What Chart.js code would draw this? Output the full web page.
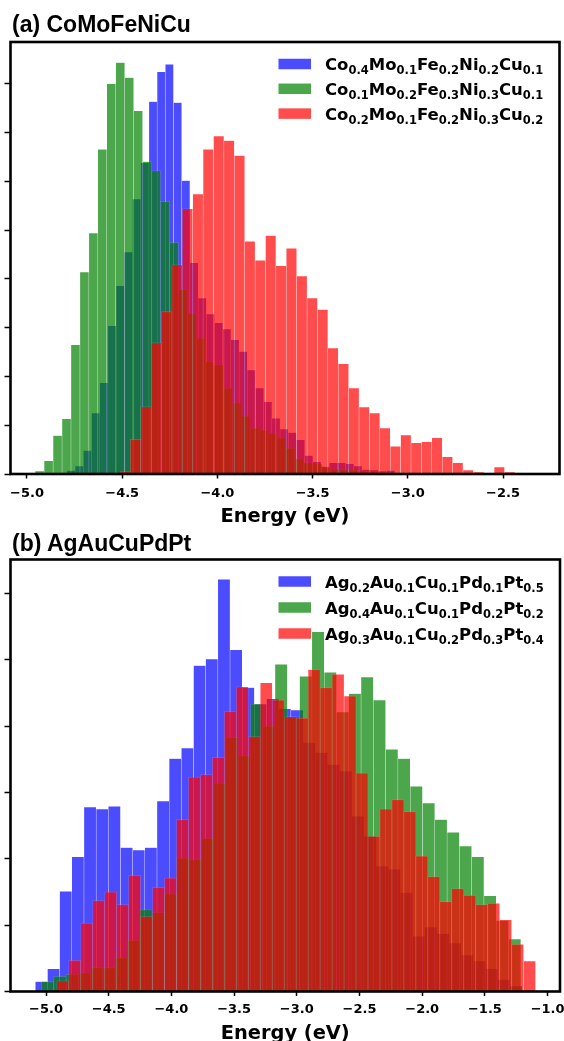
<!DOCTYPE html>
<html>
<head>
<meta charset="utf-8">
<script src="https://cdn.jsdelivr.net/npm/chart.js@4.4.0/dist/chart.umd.min.js"></script>
<style>
  html, body { margin: 0; padding: 0; background: #fff; overflow: hidden; }
  body { width: 564px; height: 1041px; position: relative; }
  .panel { position: absolute; left: 0; width: 564px; height: 530px; }
  .title { position: absolute; left: 12px; font: bold 23px "Liberation Sans", Arial, sans-serif; line-height: 23px; white-space: nowrap; color: #000; }
</style>
</head>
<body>
<div class="panel" style="top:0px"><canvas id="chartA"></canvas></div>
<div class="panel" style="top:520px"><canvas id="chartB"></canvas></div>
<div class="title" style="top:12.8px">(a) CoMoFeNiCu</div>
<div class="title" style="top:532.2px">(b) AgAuCuPdPt</div>
<script>
// histogram counts per bin (10000 samples each), bins spread evenly over [first edge, last edge]

// (a) CoMoFeNiCu
const aXRange = [-5.0866, -2.2034];
const aYMax = 886;
const aLabels = [
  [['Co', '0.4'], ['Mo', '0.1'], ['Fe', '0.2'], ['Ni', '0.2'], ['Cu', '0.1']],
  [['Co', '0.1'], ['Mo', '0.2'], ['Fe', '0.3'], ['Ni', '0.3'], ['Cu', '0.1']],
  [['Co', '0.2'], ['Mo', '0.1'], ['Fe', '0.2'], ['Ni', '0.3'], ['Cu', '0.2']]
];
const aBlueEdges = [-4.790, -3.0684];
const aBlueCounts = [7, 16, 48, 125, 187, 304, 386, 455, 564, 638, 764, 825, 840, 762, 602, 433, 361, 328, 310, 297,
  275, 251, 213, 176, 148, 114, 92, 85, 70, 38, 25, 15, 23, 23, 21, 16, 9, 8, 6, 7];
const aGreenEdges = [-4.957, -3.0758];
const aGreenCounts = [6, 27, 79, 113, 265, 414, 494, 666, 800, 844, 813, 745, 641, 622, 559, 475, 379, 330, 279, 230,
  224, 176, 146, 119, 94, 90, 84, 74, 53, 31, 23, 21, 14, 10, 9, 8, 7, 6, 4, 2];
const aRedEdges = [-4.5118, -2.3281];
const aRedCounts = [5, 71, 138, 269, 333, 429, 544, 574, 666, 693, 684, 653, 477, 438, 489, 427, 463, 406, 361, 337,
  258, 226, 176, 137, 125, 94, 57, 80, 64, 66, 74, 35, 23, 8, 4, 2, 14, 4, 2, 1];

// (b) AgAuCuPdPt
const bXRange = [-5.2831, -0.9011];
const bYMax = 651;
const bLabels = [
  [['Ag', '0.2'], ['Au', '0.1'], ['Cu', '0.1'], ['Pd', '0.1'], ['Pt', '0.5']],
  [['Ag', '0.4'], ['Au', '0.1'], ['Cu', '0.1'], ['Pd', '0.2'], ['Pt', '0.2']],
  [['Ag', '0.3'], ['Au', '0.1'], ['Cu', '0.2'], ['Pd', '0.3'], ['Pt', '0.4']]
];
const bBlueEdges = [-5.0853, -1.2033];
const bBlueCounts = [15, 34, 151, 203, 278, 275, 279, 217, 213, 217, 287, 351, 367, 491, 501, 621, 515, 458, 433, 441,
  426, 424, 375, 360, 342, 332, 264, 234, 189, 184, 149, 83, 97, 87, 73, 55, 46, 34, 18, 8];
const bGreenEdges = [-5.0359, -1.2136];
const bGreenCounts = [15, 23, 26, 28, 36, 36, 51, 77, 123, 119, 147, 201, 199, 231, 314, 383, 355, 433, 400, 493,
  414, 475, 542, 481, 421, 449, 474, 439, 365, 351, 309, 284, 259, 240, 219, 203, 144, 107, 79];
const bRedEdges = [-4.9139, -1.0959];
const bRedCounts = [16, 47, 103, 137, 150, 131, 175, 113, 157, 171, 259, 323, 327, 353, 422, 459, 384, 465, 439, 414,
  412, 485, 458, 478, 445, 329, 234, 275, 289, 271, 204, 173, 135, 155, 145, 131, 133, 108, 71, 46];

const seriesColors = ['rgba(0,0,255,0.7)', 'rgba(0,128,0,0.7)', 'rgba(255,0,0,0.7)'];
const FONT = '"DejaVu Sans", Verdana, sans-serif';

function histPoints(edges, counts) {
  const w = (edges[1] - edges[0]) / counts.length;
  return counts.map((c, i) => ({x: edges[0] + (i + 0.5) * w, y: c}));
}

function fmtTick(v) {
  const s = Math.abs(v).toFixed(1);
  return v < 0 ? '\u2212' + s : s;
}

const framePlugin = {
  id: 'frame',
  afterDatasetsDraw(chart) {
    const {ctx, chartArea: a} = chart;
    ctx.save();
    ctx.strokeStyle = '#000';
    ctx.lineWidth = 2.6;
    ctx.strokeRect(a.left, a.top, a.right - a.left, a.bottom - a.top);
    ctx.restore();
  }
};

// legend with subscripts, drawn over the bars like matplotlib does
const subLegendPlugin = {
  id: 'subLegend',
  afterDatasetsDraw(chart, args, opts) {
    const {ctx, chartArea} = chart;
    ctx.save();
    ctx.textBaseline = 'alphabetic';
    opts.rows.forEach((parts, i) => {
      const cy = chartArea.top + opts.top + i * opts.gap;
      ctx.fillStyle = seriesColors[i];
      ctx.fillRect(opts.swatchX, cy - 5.25, 32.5, 10.5);
      ctx.fillStyle = '#000';
      let x = opts.textX;
      parts.forEach(([el, frac]) => {
        ctx.font = 'bold 16.5px ' + FONT;
        ctx.fillText(el, x, cy + 6.3);
        x += ctx.measureText(el).width;
        ctx.font = 'bold 11.5px ' + FONT;
        ctx.fillText(frac, x, cy + 10.3);
        x += ctx.measureText(frac).width;
      });
    });
    ctx.restore();
  }
};

function makeChart(id, p) {
  const series = [[p.blueEdges, p.blueCounts], [p.greenEdges, p.greenCounts], [p.redEdges, p.redCounts]];
  return new Chart(document.getElementById(id), {
    type: 'bar',
    data: {
      datasets: series.map((s, i) => {
        const binW = (s[0][1] - s[0][0]) / s[1].length;
        return {
          label: p.labels[i].map(q => q.join('')).join(''),
          data: histPoints(s[0], s[1]),
          backgroundColor: seriesColors[i],
          borderColor: 'rgba(255,255,255,0.2)',
          borderWidth: 0.5,
          // one bar spans exactly one bin on the x scale
          barThickness: c => {
            const x = c.chart.scales.x;
            return Math.abs(x.getPixelForValue(binW) - x.getPixelForValue(0));
          },
          grouped: false,
          order: 3 - i
        };
      })
    },
    options: {
      responsive: true,
      maintainAspectRatio: false,
      animation: false,
      layout: {padding: p.padding},
      plugins: {
        legend: {display: false},
        tooltip: {enabled: false},
        subLegend: {rows: p.labels, top: 22, gap: p.legendGap, swatchX: 278.5, textX: 325}
      },
      scales: {
        x: {
          type: 'linear',
          min: p.xRange[0],
          max: p.xRange[1],
          offset: false,
          border: {display: false},
          grid: {offset: false, drawOnChartArea: false, drawTicks: true, tickLength: 4.5, tickWidth: 1.5, tickColor: '#000'},
          ticks: {
            stepSize: 0.5, includeBounds: false, padding: p.tickPad, color: '#000',
            maxRotation: 0, autoSkip: false,
            font: {family: FONT, size: 13, weight: 'bold'},
            callback: v => fmtTick(v)
          },
          title: {
            display: true, text: 'Energy (eV)', color: '#000',
            font: {family: FONT, size: 19.4, weight: 'bold'},
            padding: {top: 0, bottom: p.titlePad}
          },
          afterFit: s => {
            s.height = p.xHeight;
            // let the end labels hang over the plot edge instead of shrinking the plot
            s.paddingLeft = 0;
            s.paddingRight = 0;
          }
        },
        y: {
          min: 0,
          max: p.yMax,
          border: {display: false},
          grid: {drawOnChartArea: false, drawTicks: true, tickLength: 6, tickWidth: 1.5, tickColor: '#000'},
          ticks: {display: false, stepSize: 100, includeBounds: false},
          afterFit: s => { s.width = 6; }
        }
      }
    },
    plugins: [framePlugin, subLegendPlugin]
  });
}

makeChart('chartA', {
  labels: aLabels, xRange: aXRange, yMax: aYMax,
  blueEdges: aBlueEdges, blueCounts: aBlueCounts,
  greenEdges: aGreenEdges, greenCounts: aGreenCounts,
  redEdges: aRedEdges, redCounts: aRedCounts,
  padding: {top: 42, left: 4.5, right: 4.5, bottom: 0},
  xHeight: 56, tickPad: 7.5, titlePad: 1.5, legendGap: 24.8
});

makeChart('chartB', {
  labels: bLabels, xRange: bXRange, yMax: bYMax,
  blueEdges: bBlueEdges, blueCounts: bBlueCounts,
  greenEdges: bGreenEdges, greenCounts: bGreenCounts,
  redEdges: bRedEdges, redCounts: bRedCounts,
  padding: {top: 39.5, left: 4.5, right: 4, bottom: 0},
  xHeight: 58.5, tickPad: 6, titlePad: 4.5, legendGap: 26
});
</script>
</body>
</html>
